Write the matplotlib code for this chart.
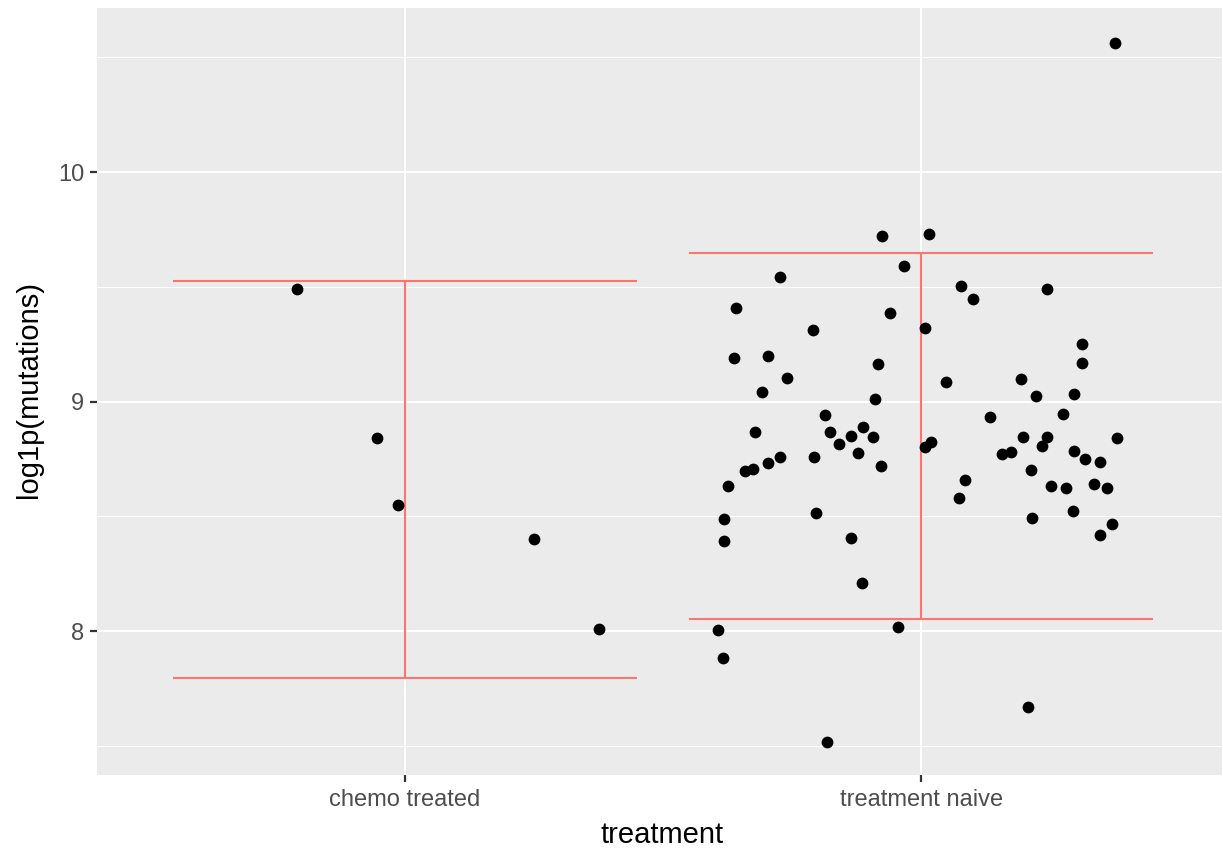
import matplotlib
matplotlib.use("Agg")
import matplotlib.pyplot as plt
from matplotlib.ticker import FixedLocator

plt.rcParams['font.family'] = ['Liberation Sans', 'DejaVu Sans']

# Categories and per-point values (x includes horizontal jitter around the category position)
categories = ["chemo treated", "treatment naive"]

chemo_x = [0.791, 0.946, 0.986, 1.250, 1.376]
chemo_y = [9.490, 8.841, 8.549, 8.401, 8.009]

naive_x = [2.376, 1.924, 2.016, 1.967, 1.727, 2.078, 2.101, 2.244, 1.641, 1.940,
           1.791, 2.008, 2.312, 1.638, 1.703, 1.917, 2.312, 1.740, 2.048, 2.194,
           1.692, 2.223, 2.297, 1.911, 2.134, 1.814, 2.275, 1.678, 1.888, 1.824,
           1.864, 1.907, 1.841, 2.198, 2.244, 2.380, 2.019, 2.008, 2.234, 1.878,
           1.793, 1.727, 2.157, 2.174, 2.297, 2.318, 2.347, 1.703, 1.674, 1.659,
           1.922, 2.213, 2.085, 1.626, 2.252, 2.281, 2.335, 2.360, 2.074, 1.797,
           2.295, 1.618, 2.215, 2.370, 2.347, 1.864, 1.618, 1.886, 1.955, 1.607,
           1.616, 2.207, 1.818]
naive_y = [10.562, 9.721, 9.730, 9.590, 9.542, 9.503, 9.447, 9.490, 9.407, 9.386,
           9.312, 9.320, 9.251, 9.190, 9.198, 9.163, 9.168, 9.102, 9.085, 9.098,
           9.041, 9.024, 9.033, 9.011, 8.932, 8.941, 8.946, 8.867, 8.889, 8.867,
           8.850, 8.845, 8.815, 8.845, 8.845, 8.841, 8.824, 8.802, 8.806, 8.776,
           8.758, 8.758, 8.771, 8.780, 8.784, 8.749, 8.736, 8.732, 8.706, 8.697,
           8.719, 8.702, 8.658, 8.632, 8.632, 8.623, 8.641, 8.623, 8.580, 8.514,
           8.523, 8.488, 8.492, 8.466, 8.418, 8.405, 8.392, 8.209, 8.017, 8.004,
           7.882, 7.669, 7.516]

# Error bar limits per category
bar_lower = [7.795, 8.052]
bar_upper = [9.525, 9.647]

y_ticks = [8, 9, 10]
y_minor = [7.5, 8.5, 9.5, 10.5]

W, H = 1223, 850
fig = plt.figure(figsize=(W / 100, H / 100), dpi=100)
ax = fig.add_axes([97 / W, 1 - 775 / H, (1222 - 97) / W, (775 - 8) / H])

ax.set_facecolor('#EBEBEB')
for s in ax.spines.values():
    s.set_visible(False)

positions = [1, 2]

# Grid lines
ax.yaxis.set_major_locator(FixedLocator(y_ticks))
ax.yaxis.set_minor_locator(FixedLocator(y_minor))
ax.xaxis.set_major_locator(FixedLocator(positions))
ax.set_xticklabels(categories)
ax.set_yticklabels([str(t) for t in y_ticks])
ax.grid(which='major', color='white', linewidth=1.5)
ax.grid(which='minor', axis='y', color='white', linewidth=0.75)
ax.set_axisbelow(True)

# Error bars: vertical stem plus caps of width 0.9
red = '#F8766D'
for p, lo, hi in zip(positions, bar_lower, bar_upper):
    ax.vlines(p, lo, hi, color=red, linewidth=1.5, zorder=2)
    ax.hlines([lo, hi], p - 0.45, p + 0.45, color=red, linewidth=1.5, zorder=2)

# Points
ax.scatter(chemo_x, chemo_y, s=72, color='black', linewidths=0, zorder=3)
ax.scatter(naive_x, naive_y, s=72, color='black', linewidths=0, zorder=3)

ax.set_xlim(0.403, 2.583)
ax.set_ylim(7.373, 10.715)

ax.tick_params(which='major', length=5.3, width=1.6, color='#333333',
               labelcolor='#4D4D4D', labelsize=17)
ax.tick_params(axis='x', which='major', pad=4.5)
ax.tick_params(axis='y', which='major', pad=4.0)
ax.tick_params(which='minor', length=0)

# Axis titles
fig.text(662 / W, 1 - 843 / H, 'treatment', fontsize=21, color='black',
         ha='center', va='baseline')
fig.text(37 / W, 1 - 390 / H, 'log1p(mutations)', fontsize=21, color='black',
         ha='center', va='baseline', rotation=90, rotation_mode='anchor')

fig.savefig('out.png', dpi=100)
